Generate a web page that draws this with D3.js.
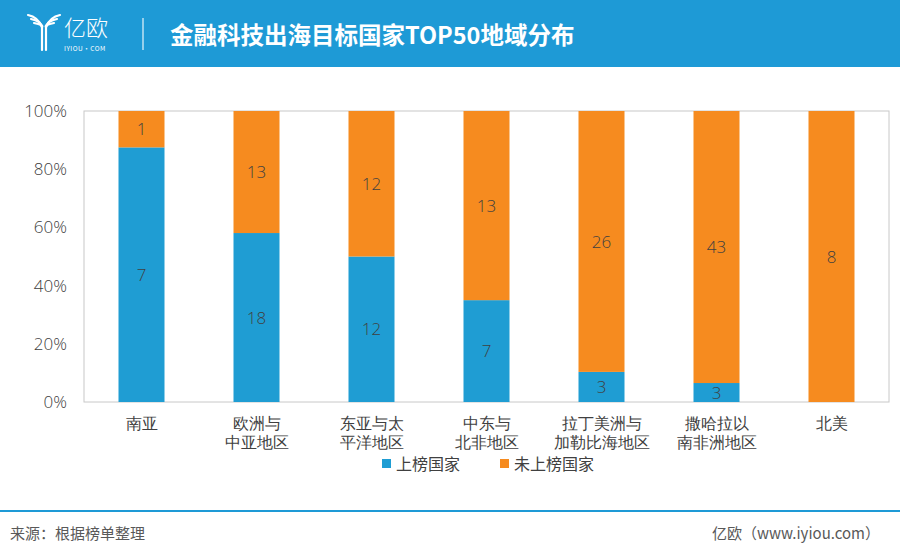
<!DOCTYPE html>
<html><head><meta charset="utf-8">
<script src="https://cdn.jsdelivr.net/npm/d3@7"></script>
<style>body{margin:0;background:#fff;}svg{display:block;font-family:"Noto Sans CJK SC","Noto Sans",sans-serif;}</style>
</head><body>
<svg id="c" width="900" height="555"></svg>
<script>
const categories = [["南亚"],["欧洲与","中亚地区"],["东亚与太","平洋地区"],["中东与","北非地区"],["拉丁美洲与","加勒比海地区"],["撒哈拉以","南非洲地区"],["北美"]];
const listed = [7,18,12,7,3,3,0];
const unlisted = [1,13,12,13,26,43,8];
const yTicks = [0,0.2,0.4,0.6,0.8,1.0];
const seriesNames = ["上榜国家","未上榜国家"];
const colors = ["#1f9dd3","#f68b1f"];

const svg = d3.select("#c");
// header
svg.append("rect").attr("x",0).attr("y",0).attr("width",900).attr("height",67).attr("fill","#1e9ad6");
// logo icon
const g0 = svg.append("g").attr("fill","none").attr("stroke","#fff").attr("stroke-width",2.2).attr("stroke-linecap","round");
[[0,0],[3,4],[6,8]].forEach(([dx,dy])=>{
  g0.append("path").attr("d",`M${28+dx},${15+dy} Q${38+dx},${17+dy} ${42},${27}`);
});
[[0,0],[3,4],[6,8]].forEach(([dx,dy])=>{
  g0.append("path").attr("d",`M${60-dx},${15+dy} Q${50-dx},${17+dy} ${46},${27}`);
});
g0.append("path").attr("d","M42,27 L42,50 M46,27 L46,50");
svg.append("text").attr("x",64).attr("y",36).attr("fill","#fff").attr("font-size",22).attr("font-weight",300).text("亿欧");
svg.append("text").attr("x",64).attr("y",51).attr("fill","#fff").attr("font-size",6.5).attr("letter-spacing",0.5).text("IYIOU·COM");
svg.append("line").attr("x1",143).attr("x2",143).attr("y1",18).attr("y2",50).attr("stroke","#fff").attr("stroke-width",1.2).attr("opacity",0.9);
svg.append("text").attr("x",170).attr("y",44).attr("fill","#fff").attr("font-size",23.5).attr("font-weight",700).text("金融科技出海目标国家TOP50地域分布");

// chart
const m = {l:84, r:889, t:111, b:402};
const x = d3.scaleBand().domain(d3.range(categories.length)).range([m.l,m.r]).paddingInner(0.6).paddingOuter(0.3);
const y = d3.scaleLinear().domain([0,1]).range([m.b,m.t]);

svg.append("rect").attr("x",m.l).attr("y",m.t).attr("width",m.r-m.l).attr("height",m.b-m.t).attr("fill","none").attr("stroke","#c8c8c8").attr("stroke-width",1);

const data = categories.map((c,i)=>({i, a:listed[i], b:unlisted[i], tot:listed[i]+unlisted[i]}));
const bars = svg.append("g");
data.forEach(d=>{
  const pa = d.a/d.tot;
  bars.append("rect").attr("x",x(d.i)).attr("width",x.bandwidth()).attr("y",y(pa)).attr("height",y(0)-y(pa)).attr("fill",colors[0]);
  bars.append("rect").attr("x",x(d.i)).attr("width",x.bandwidth()).attr("y",y(1)).attr("height",y(pa)-y(1)).attr("fill",colors[1]);
  const cx = x(d.i)+x.bandwidth()/2;
  if(d.a>0) bars.append("text").attr("x",cx).attr("y",y(pa/2)).attr("dy","0.36em").attr("text-anchor","middle").attr("font-size",17).attr("font-family","'Open Sans',sans-serif").attr("font-weight",300).attr("fill","#404040").text(d.a);
  if(d.b>0) bars.append("text").attr("x",cx).attr("y",y((1+pa)/2)).attr("dy","0.36em").attr("text-anchor","middle").attr("font-size",17).attr("font-family","'Open Sans',sans-serif").attr("font-weight",300).attr("fill","#404040").text(d.b);
});

// y axis
const ya = svg.append("g").attr("transform",`translate(${m.l},0)`).call(d3.axisLeft(y).tickValues(yTicks).tickFormat(d3.format(".0%")).tickSize(0).tickPadding(17));
ya.select(".domain").remove();
ya.selectAll("text").attr("font-size",17).attr("font-family","'Open Sans',sans-serif").attr("font-weight",300).attr("fill","#404040");

// x axis
const xa = svg.append("g").attr("transform",`translate(0,${m.b})`).call(d3.axisBottom(x).tickSize(0).tickFormat(""));
xa.select(".domain").remove();
xa.selectAll(".tick").each(function(i){
  const t = d3.select(this).append("text").attr("fill","#404040").attr("font-size",16).attr("text-anchor","middle");
  categories[i].forEach((line,k)=>t.append("tspan").attr("x",0).attr("y",27+k*19).text(line));
});

// legend
const lg = svg.append("g");
[[382,396],[500,514]].forEach(([sx,tx],k)=>{
  lg.append("rect").attr("x",sx).attr("y",459).attr("width",9).attr("height",9).attr("fill",colors[k]);
  lg.append("text").attr("x",tx).attr("y",469.5).attr("font-size",16).attr("fill","#404040").text(seriesNames[k]);
});

// footer
svg.append("line").attr("x1",0).attr("x2",900).attr("y1",511).attr("y2",511).attr("stroke","#1e9ad6").attr("stroke-width",2);
svg.append("text").attr("x",10).attr("y",539).attr("font-size",15).attr("fill","#595959").text("来源：根据榜单整理");
svg.append("text").attr("x",880).attr("y",539).attr("text-anchor","end").attr("font-size",15).attr("fill","#595959").text("亿欧（www.iyiou.com）");
</script>
</body></html>
